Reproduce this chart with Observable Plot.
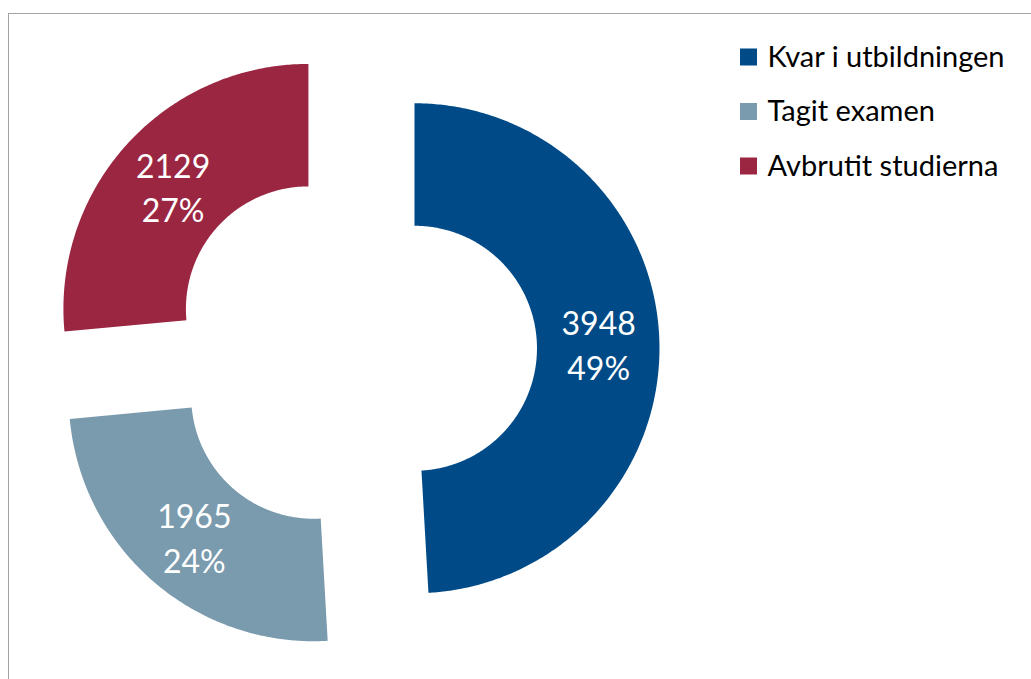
<!DOCTYPE html>
<html>
<head>
<meta charset="utf-8">
<script src="https://cdn.jsdelivr.net/npm/d3@7"></script>
<script src="https://cdn.jsdelivr.net/npm/@observablehq/plot@0.6"></script>
<style>
  html, body { margin: 0; padding: 0; background: #fff; overflow: hidden; }
  #wrap { position: relative; width: 1031px; height: 679px; }
  #border { position: absolute; left: 8px; top: 13px; right: -10px; bottom: -10px;
            border-top: 1.5px solid #a3a3a3; border-left: 1.5px solid #a3a3a3; pointer-events: none; }
  #chart svg { display: block; }
</style>
</head>
<body>
<div id="wrap"><div id="chart"></div><div id="border"></div></div>
<script>
// ---- data ----
const categories = ["Kvar i utbildningen", "Tagit examen", "Avbrutit studierna"];
const counts = [3948, 1965, 2129];
const percentLabels = ["49%", "24%", "27%"];
const colors = ["#004b87", "#7a9aad", "#9b2642"];

// ---- layout ----
const W = 1031, H = 679;
const CX = 353.5, CY = 350, R_OUT = 245, R_IN = 122.5, EXPLODE = 61;
const FONT = "Lato, 'Open Sans', sans-serif";

const total = d3.sum(counts);
let acc = 0;
const slices = categories.map((name, i) => {
  const a0 = acc / total * 2 * Math.PI;
  acc += counts[i];
  const a1 = acc / total * 2 * Math.PI;
  const mid = (a0 + a1) / 2;
  const ox = CX + EXPLODE * Math.sin(mid);
  const oy = CY - EXPLODE * Math.cos(mid);
  const rm = (R_OUT + R_IN) / 2;
  return {name, count: counts[i], pct: percentLabels[i], a0, a1, ox, oy,
          lx: ox + rm * Math.sin(mid), ly: oy - rm * Math.cos(mid)};
});

// ring-segment outline points derived from each slice's angles
const ring = [];
for (const s of slices) {
  const n = Math.max(2, Math.ceil((s.a1 - s.a0) / (Math.PI / 360)));
  for (let k = 0; k <= n; k++) {
    const t = s.a0 + (s.a1 - s.a0) * k / n;
    ring.push({name: s.name,
      xi: s.ox + R_IN * Math.sin(t), yi: s.oy - R_IN * Math.cos(t),
      xo: s.ox + R_OUT * Math.sin(t), yo: s.oy - R_OUT * Math.cos(t)});
  }
}

const legendRows = categories.map((name, i) => ({name, y: 57 + i * 54.5}));

const chart = Plot.plot({
  width: W, height: H,
  margin: 0,
  x: {type: "identity", axis: null},
  y: {type: "identity", axis: null},
  color: {domain: categories, range: colors},
  style: {fontFamily: FONT, background: "white"},
  marks: [
    Plot.area(ring, {x1: "xi", y1: "yi", x2: "xo", y2: "yo", fill: "name", z: "name"}),
    Plot.text(slices, {x: "lx", y: "ly", text: d => `${d.count}\n${d.pct}`,
      fill: "white", fontSize: 32, lineHeight: 1.4, fontFamily: FONT}),
    Plot.rect(legendRows, {x1: () => 740, x2: () => 757, y1: d => d.y - 8.5, y2: d => d.y + 8.5, fill: "name"}),
    Plot.text(legendRows, {x: () => 767, y: "y", text: "name", textAnchor: "start",
      fill: "black", fontSize: 29, fontFamily: FONT})
  ]
});
document.getElementById("chart").append(chart);
</script>
</body>
</html>
